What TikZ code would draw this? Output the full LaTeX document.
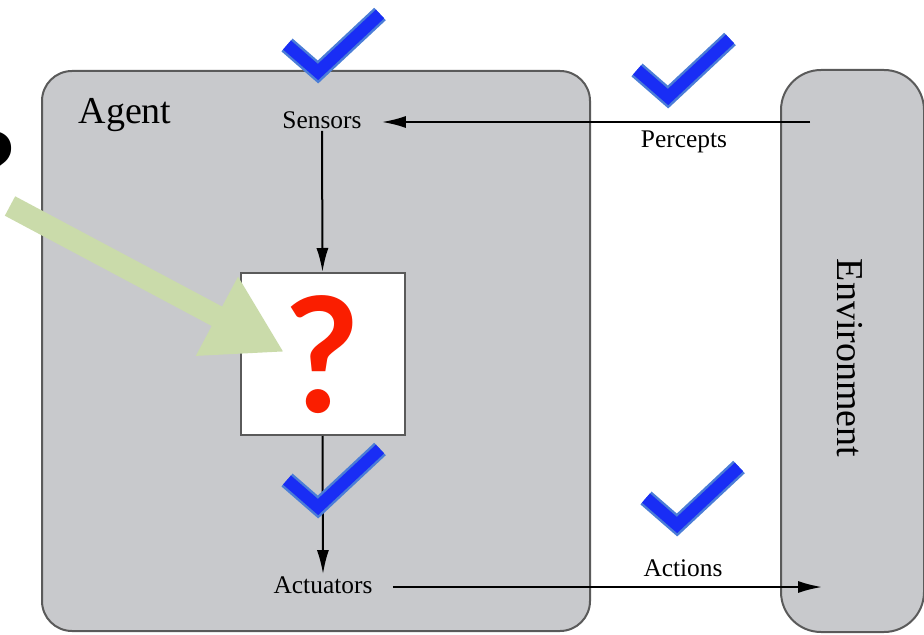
\documentclass[tikz,border=0pt]{standalone}
\usepackage{fontspec}
\setmainfont{Liberation Serif}
\newfontfamily\qfont{Lato}
\usetikzlibrary{arrows.meta}

\definecolor{boxgray}{RGB}{200,201,204}
\definecolor{linegray}{RGB}{90,90,90}
\definecolor{qred}{RGB}{250,30,0}
\definecolor{hintgreen}{RGB}{202,219,170}
\definecolor{tickblue}{RGB}{25,45,245}
\definecolor{tickedge}{RGB}{75,125,215}

\begin{document}
\begin{tikzpicture}[
  x=0.5pt, y=-0.5pt,
  agentbox/.style={draw=linegray, line width=1pt, fill=boxgray, rounded corners=15pt},
  envbox/.style={draw=linegray, line width=1pt, fill=boxgray, rounded corners=20pt},
  label/.style={font=\fontsize{12.7}{14}\selectfont, inner sep=1pt},
  bigtext/.style={font=\fontsize{19}{22}\selectfont, inner sep=0pt},
  brainbox/.style={draw=linegray, line width=1pt, fill=white, minimum width=82pt, minimum height=81pt, inner sep=0pt},
  flow/.style={line width=1pt, -{Latex[length=12pt,width=6pt]}},
]
\useasboundingbox (0,0) rectangle (924,635);

%BOXES
\filldraw[agentbox] (42,71) rectangle (590,631);
\filldraw[envbox] (781,70) rectangle (924,632);

\node[bigtext] (agent) at (125,115) {Agent};
\node[bigtext, rotate=-90] (env) at (850,358) {Environment};

%AGENT PARTS
\node[label, inner xsep=10pt] (sensors) at (322,120) {Sensors};
\node[brainbox] (brain) at (322.5,354) {};
\node[inner sep=0pt, text=qred, font=\qfont\bfseries\fontsize{80}{80}\selectfont] (query) at (322,355) {?};
\node[label, inner xsep=10pt] (actuators) at (323,585) {Actuators};

\coordinate (percin) at (810,122);
\coordinate (actout) at (822,587);

\draw[flow] (percin) -- (sensors.east |- percin);
\draw[flow] (sensors.south) -- (brain.north);
\draw[flow] (brain.south) -- (actuators.north);
\draw[flow] (actuators.east |- actout) -- (actout);

\node[label] (percepts) at (684,142) {Percepts};
\node[label] (actions) at (683,568) {Actions};

%HINT ARROW
\node[inner sep=0pt, font=\qfont\bfseries\fontsize{50}{50}\selectfont] (hint) at (-7,168) {?};
\coordinate (hintstart) at (10,206);
\coordinate (hinttip) at (284,352);
\draw[hintgreen, line width=11pt, -{Triangle[length=38pt,width=42pt]}] (hintstart) -- (hinttip);

%TICKS
\foreach \x/\y in {318/72, 668/97, 318/507, 677/525}{
  \draw[tickedge, line width=8.5pt] (\x-31,\y-27) -- (\x,\y) -- (\x+62,\y-58);
  \draw[tickblue, line width=6pt] (\x-31,\y-27) -- (\x,\y) -- (\x+62,\y-58);
}

\end{tikzpicture}
\end{document}
